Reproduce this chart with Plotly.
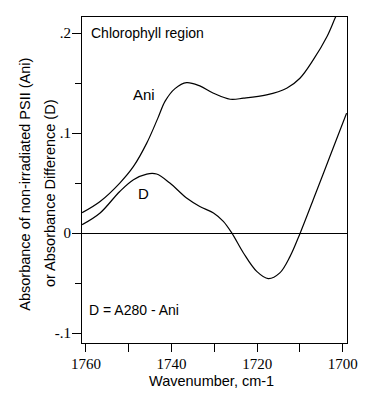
import plotly.graph_objects as go

# Wavenumber (cm-1) and absorbance values
ani_wn = [1760.9, 1756.7, 1752.1, 1748.9, 1745.8, 1743.2, 1741.5, 1739.2, 1736.5,
          1733.4, 1730.2, 1726.3, 1723.2, 1717.8, 1713.1, 1710.0, 1706.9, 1703.7,
          1701.8, 1700.6]
ani_abs = [0.0205, 0.0317, 0.0501, 0.0667, 0.0900, 0.1150, 0.1320, 0.1445, 0.1505,
           0.1472, 0.1399, 0.1339, 0.1349, 0.1382, 0.1449, 0.1549, 0.1732, 0.1964,
           0.2148, 0.226]

d_wn = [1760.9, 1756.7, 1752.1, 1748.9, 1745.8, 1743.5, 1740.4, 1736.5, 1733.4,
        1730.2, 1727.9, 1725.9, 1723.2, 1720.1, 1717.4, 1714.7, 1712.3, 1710.0,
        1706.9, 1703.0, 1699.1]
d_abs = [0.0085, 0.0202, 0.0417, 0.0534, 0.0591, 0.0591, 0.0501, 0.0351, 0.0267,
         0.0202, 0.0118, 0.0000, -0.0198, -0.0382, -0.0454, -0.0397, -0.0232, -0.0005,
         0.0334, 0.0766, 0.1200]

x_tickvals = [1760, 1740, 1720, 1700]
x_ticktext = ["1760", "1740", "1720", "1700"]
x_minorvals = [1750, 1730, 1710]
y_tickvals = [0.2, 0.1, 0.0, -0.1]
y_ticktext = [".2", ".1", "0", "-.1"]
y_minorvals = [0.15, 0.05, -0.05]

sans = "Liberation Sans, Arial, sans-serif"
serif = "Liberation Serif, Times New Roman, serif"

# The page body has an 8px default margin (left and top); compensate for it
OFF = 8

fig = go.Figure()
fig.add_trace(go.Scatter(x=ani_wn, y=ani_abs, mode="lines",
                         line=dict(color="black", width=1.2, shape="spline", smoothing=1.0),
                         showlegend=False, hoverinfo="skip"))
fig.add_trace(go.Scatter(x=d_wn, y=d_abs, mode="lines",
                         line=dict(color="black", width=1.2, shape="spline", smoothing=1.0),
                         showlegend=False, hoverinfo="skip"))

fig.update_layout(
    width=372 - OFF, height=395 - OFF,
    margin=dict(l=82 - OFF, r=25, t=17 - OFF, b=51.5, pad=0),
    paper_bgcolor="white", plot_bgcolor="white",
    font=dict(family=sans, color="black"),
    xaxis=dict(range=[1760.93, 1699.0], showgrid=False, zeroline=False,
               showline=True, mirror=True, linecolor="black", linewidth=1,
               ticks="outside", ticklen=8, tickwidth=1, tickcolor="black",
               tickmode="array", tickvals=x_tickvals, ticktext=x_ticktext,
               tickfont=dict(family=serif, size=15, color="black"),
               ticklabelstandoff=-1, automargin=False,
               minor=dict(tickmode="array", tickvals=x_minorvals,
                          ticks="outside", ticklen=8, tickwidth=1, tickcolor="black",
                          showgrid=False)),
    yaxis=dict(range=[-0.1098, 0.2161], showgrid=False,
               zeroline=True, zerolinecolor="black", zerolinewidth=1,
               showline=True, mirror=True, linecolor="black", linewidth=1,
               ticks="outside", ticklen=9, tickwidth=1, tickcolor="black",
               tickmode="array", tickvals=y_tickvals, ticktext=y_ticktext,
               tickfont=dict(family=serif, size=15, color="black"),
               ticklabelstandoff=-2, automargin=False,
               minor=dict(tickmode="array", tickvals=y_minorvals,
                          ticks="outside", ticklen=6, tickwidth=1, tickcolor="black",
                          showgrid=False)),
)

annos = [
    dict(text="Chlorophyll region", x=1759.23, y=0.1998, xref="x", yref="y",
         xanchor="left", yanchor="middle", font=dict(size=14)),
    dict(text="Ani", x=1746.5, y=0.1382, xref="x", yref="y",
         xanchor="center", yanchor="middle", font=dict(size=15)),
    dict(text="D", x=1746.5, y=0.0401, xref="x", yref="y",
         xanchor="center", yanchor="middle", font=dict(size=15)),
    dict(text="D = A280 - Ani", x=1759.7, y=-0.0770, xref="x", yref="y",
         xanchor="left", yanchor="middle", font=dict(size=14)),
    dict(text="Wavenumber, cm-1", x=0.49, y=(343.5 - 381.5) / 326.5, xref="paper", yref="paper",
         xanchor="center", yanchor="middle", font=dict(size=14.5)),
    dict(text="Absorbance of non-irradiated PSII (Ani)", x=(25 - 82) / 265,
         y=(343.5 - 185) / 326.5, xref="paper", yref="paper", textangle=-90,
         xanchor="center", yanchor="middle", font=dict(size=14.5)),
    dict(text="or Absorbance Difference (D)", x=(50 - 82) / 265,
         y=(343.5 - 193.3) / 326.5, xref="paper", yref="paper", textangle=-90,
         xanchor="center", yanchor="middle", font=dict(size=14.5)),
]
for a in annos:
    a["showarrow"] = False
    fig.add_annotation(**a)

fig.write_html("out.html")
